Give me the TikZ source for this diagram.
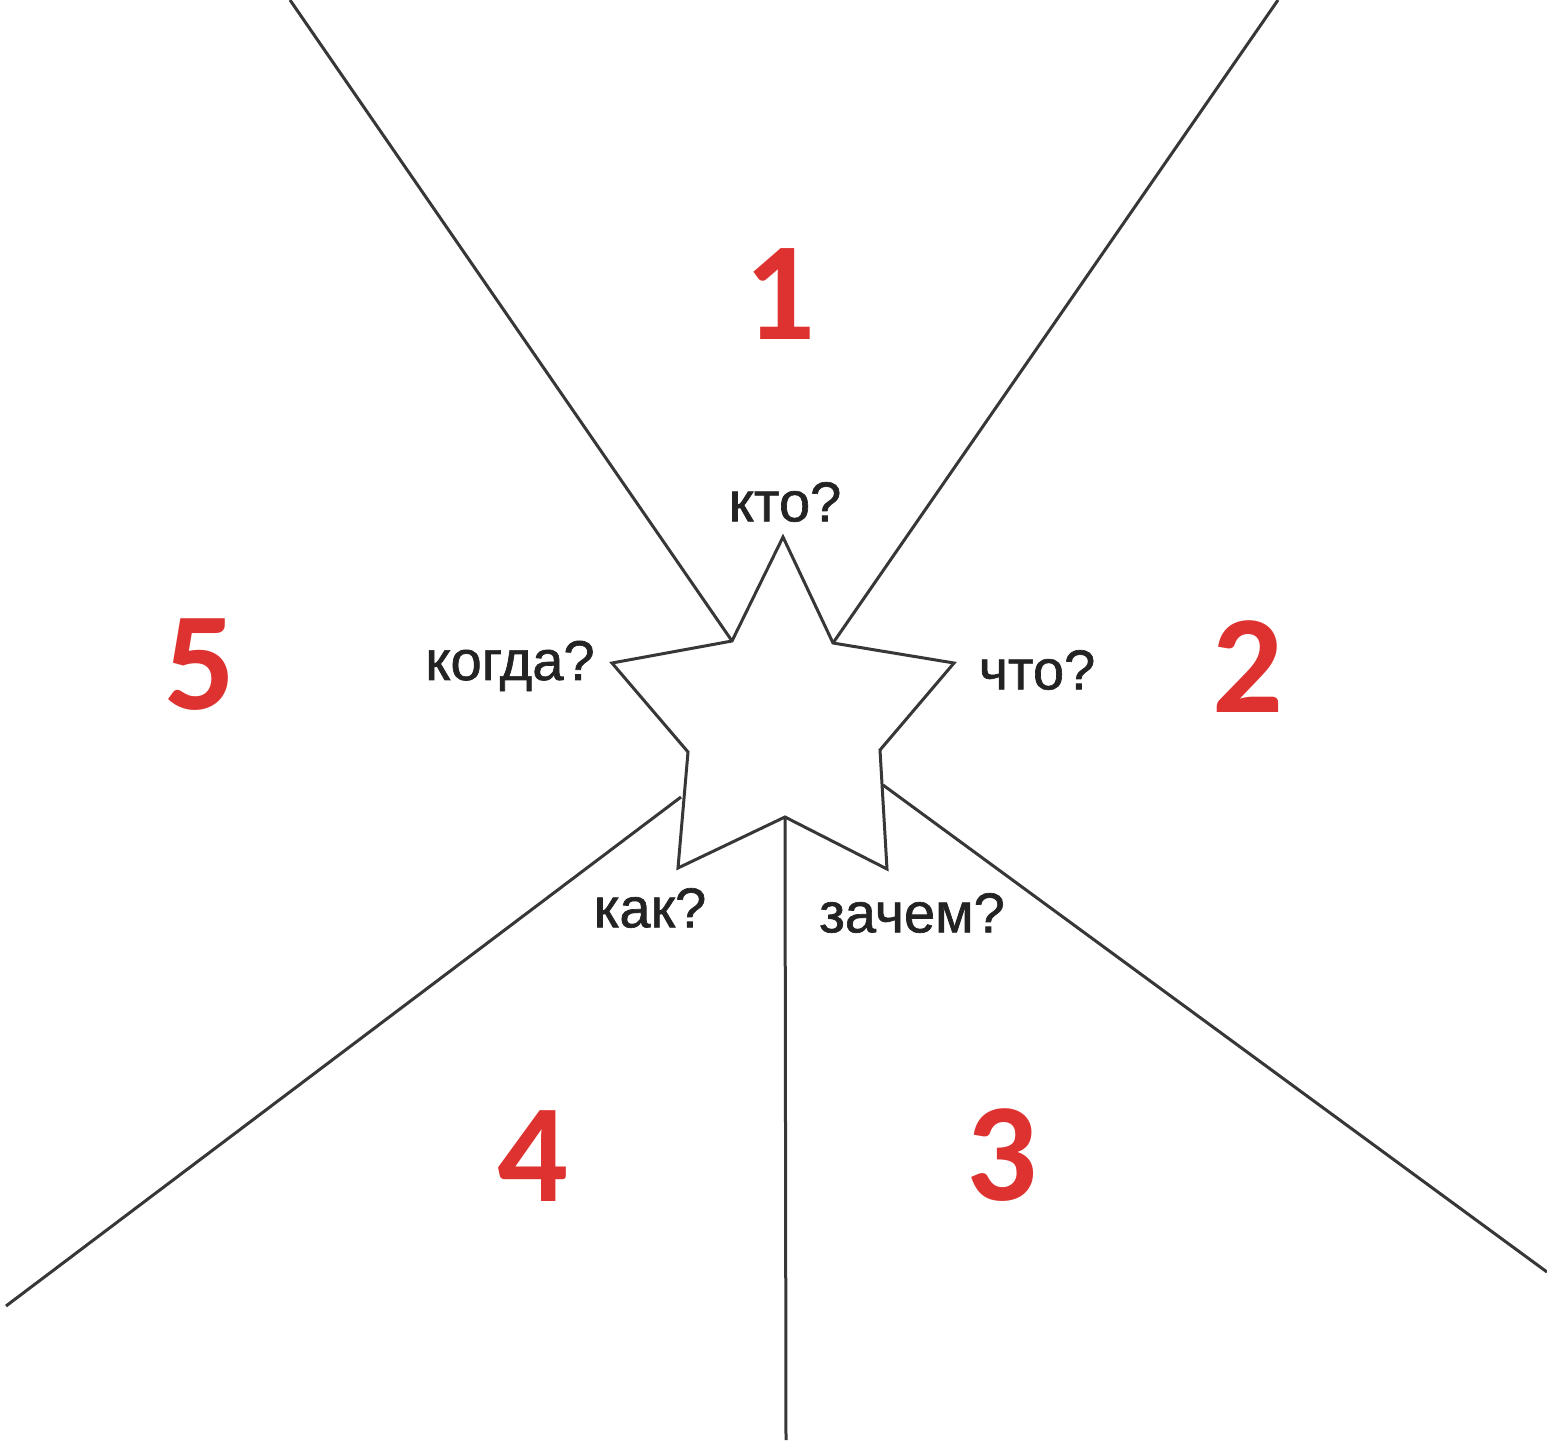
\documentclass[tikz,border=0pt]{standalone}
\usepackage{fontspec}
\setmainfont{Liberation Sans}
\newfontfamily\qfont[FakeBold=1.2]{Liberation Sans}
\newfontfamily\numfont{Carlito}
\definecolor{numred}{RGB}{222,50,48}
\definecolor{linegray}{RGB}{55,55,55}
\definecolor{txtgray}{RGB}{35,35,35}
\begin{document}
\begin{tikzpicture}[x=0.5pt,y=-0.5pt,
  ray/.style={draw=linegray,line width=1.5pt},
  starline/.style={draw=linegray,line width=1.5pt,line join=miter},
  qlabel/.style={inner sep=0pt,text=txtgray,font=\qfont\fontsize{28}{30}\selectfont},
  numlabel/.style={inner sep=0pt,text=numred,font=\numfont\bfseries\fontsize{70}{72}\selectfont}]
\useasboundingbox (0,0) rectangle (1547,1440);
% star vertices
\coordinate (tT) at (783,537);
\coordinate (iTR) at (833,643);
\coordinate (tR) at (954,663);
\coordinate (iR) at (880,750);
\coordinate (tBR) at (887,869);
\coordinate (iB) at (785,817);
\coordinate (tBL) at (678,868);
\coordinate (iL) at (688,752);
\coordinate (tL) at (612,663);
\coordinate (iTL) at (732,641);
% ray ends
\coordinate (eUL) at (290,0);
\coordinate (eUR) at (1278,0);
\coordinate (sLL) at (681,797);
\coordinate (eLL) at (6,1306);
\coordinate (sLR) at (883,785);
\coordinate (eLR) at (1547,1272);
\coordinate (eB) at (786,1440);
% rays
\draw[ray] (iTL) -- (eUL);
\draw[ray] (iTR) -- (eUR);
\draw[ray] (sLL) -- (eLL);
\draw[ray] (sLR) -- (eLR);
\draw[ray] (iB) -- (eB);
% star
\draw[starline] (tT) -- (iTR) -- (tR) -- (iR) -- (tBR) -- (iB) -- (tBL) -- (iL) -- (tL) -- (iTL) -- cycle;
% question labels
\node[qlabel] (kto) at (785,502) {кто?};
\node[qlabel] (chto) at (1037,670) {что?};
\node[qlabel] (zachem) at (912,913) {зачем?};
\node[qlabel] (kak) at (650,908) {как?};
\node[qlabel] (kogda) at (510,666) {когда?};
% numbers
\node[numlabel] (n1) at (780,294) {1};
\node[numlabel] (n2) at (1248,667) {2};
\node[numlabel] (n3) at (1002,1155) {3};
\node[numlabel] (n4) at (533,1156) {4};
\node[numlabel] (n5) at (200,665) {5};
\end{tikzpicture}
\end{document}
